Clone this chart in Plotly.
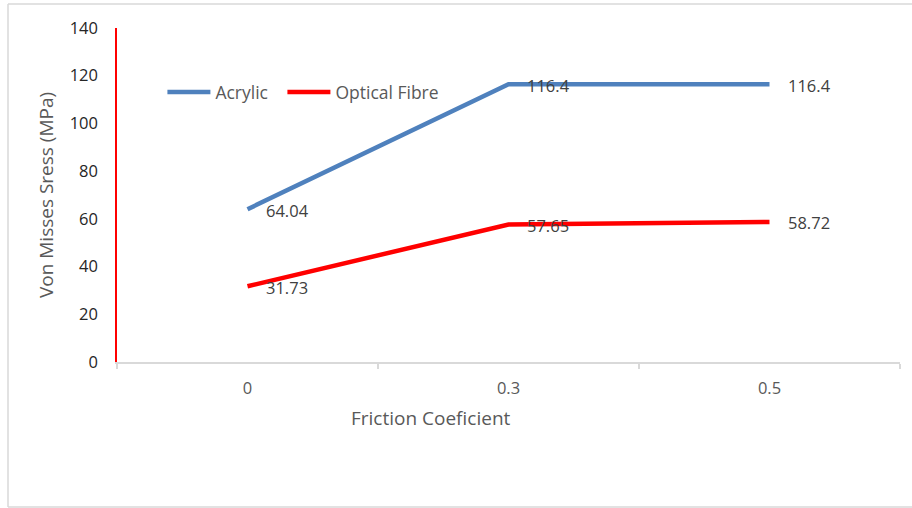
import plotly.graph_objects as go

categories = ["0", "0.3", "0.5"]
acrylic = [64.04, 116.4, 116.4]
optical_fibre = [31.73, 57.65, 58.72]
y_ticks = [0, 20, 40, 60, 80, 100, 120, 140]
x_title = "Friction Coeficient"
y_title = "Von Misses Sress (MPa)"

BLUE = "#4F81BD"
RED = "#FF0000"
FONT = "Open Sans"
BORDER = "#D9D9D9"

fig = go.Figure()
fig.add_trace(go.Scatter(x=categories, y=acrylic, mode="lines", name="Acrylic",
                         line=dict(color=BLUE, width=4.5), legendwidth=62))
fig.add_trace(go.Scatter(x=categories, y=optical_fibre, mode="lines", name="Optical Fibre",
                         line=dict(color=RED, width=4.5), legendwidth=130))

annotations = []
for series in (acrylic, optical_fibre):
    for i, v in enumerate(series):
        annotations.append(dict(x=i, y=v, xref="x", yref="y", text=f"{v:g}",
                                showarrow=False, xanchor="left", yanchor="middle",
                                xshift=16, yshift=-1,
                                font=dict(family=FONT, size=16.5, color="#404040")))
# x-axis title (offset to the left of centre, as in the reference)
annotations.append(dict(x=0.401, y=-0.1677, xref="paper", yref="paper", text=x_title,
                        showarrow=False, xanchor="center", yanchor="middle",
                        font=dict(family=FONT, size=19, color="#595959")))

# chart-area frame (top, left, bottom edges; right edge lies outside the image)
bx0, bx1, by0, by1 = -0.1392, 1.05, -0.434, 1.0719
frame = [
    dict(type="line", xref="paper", yref="paper", x0=bx0, x1=bx1, y0=by1, y1=by1),
    dict(type="line", xref="paper", yref="paper", x0=bx0, x1=bx0, y0=by0, y1=by1),
    dict(type="line", xref="paper", yref="paper", x0=bx0, x1=bx1, y0=by0, y1=by0),
]
for s in frame:
    s["line"] = dict(color=BORDER, width=1.5)
    s["layer"] = "below"

fig.update_layout(
    width=912, height=508,
    margin=dict(l=117, r=12, t=28, b=146, autoexpand=False),
    paper_bgcolor="white", plot_bgcolor="white",
    font=dict(family=FONT, size=16, color="#595959"),
    showlegend=True,
    legend=dict(orientation="h", x=0.058, y=0.808, xanchor="left", yanchor="middle",
                font=dict(family=FONT, size=17.5, color="#595959"),
                bgcolor="rgba(0,0,0,0)", itemwidth=43),
    annotations=annotations,
    shapes=frame,
    xaxis=dict(type="category", range=[-0.5, 2.5], automargin=False,
               showgrid=False, zeroline=False,
               showline=True, linecolor=BORDER, linewidth=1.5,
               ticks="outside", tickson="boundaries", ticklen=5, tickcolor=BORDER,
               tickwidth=1.5, ticklabelstandoff=10,
               tickfont=dict(family=FONT, size=16.5, color="#595959")),
    yaxis=dict(range=[0, 140], tickvals=y_ticks, automargin=False,
               showgrid=False, zeroline=False,
               showline=True, linecolor=RED, linewidth=1.5, ticks="",
               ticklabelstandoff=14,
               tickfont=dict(family=FONT, size=16.5, color="#262626"),
               title=dict(text=y_title, standoff=11,
                          font=dict(family=FONT, size=19, color="#595959"))),
)

fig.write_html("out.html", config={"displayModeBar": False},
               post_script="document.body.style.margin='0';document.body.style.overflow='hidden';")
